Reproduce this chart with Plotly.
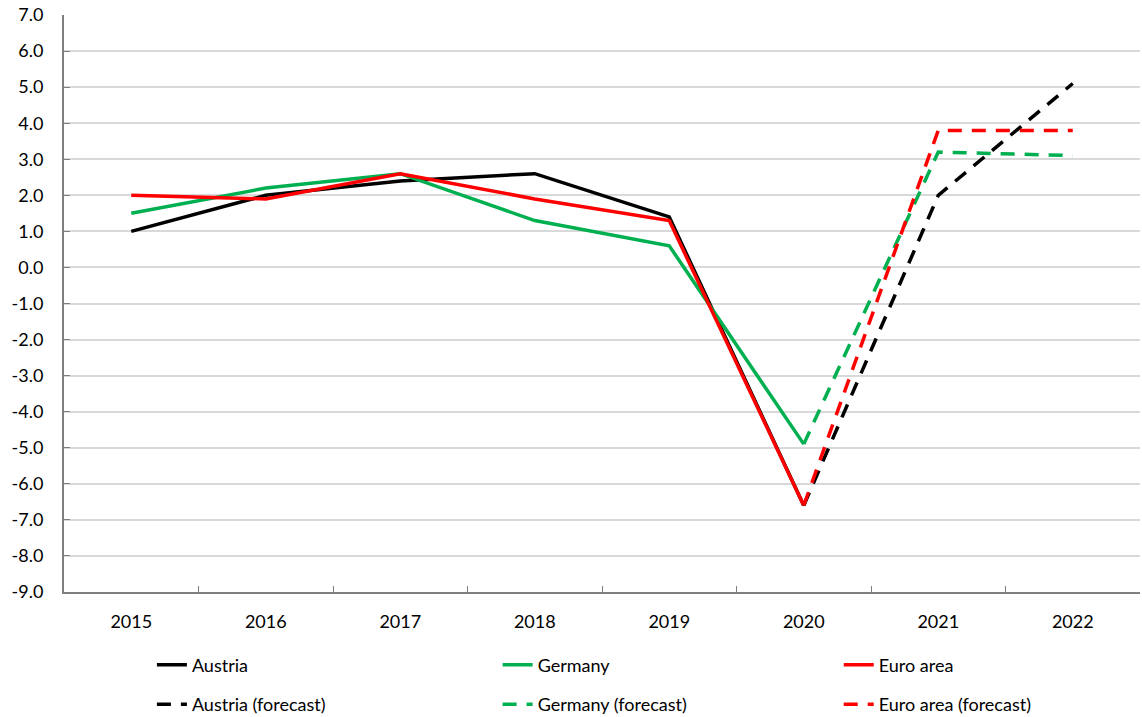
import plotly.graph_objects as go

years = ["2015", "2016", "2017", "2018", "2019", "2020", "2021", "2022"]

# Outturn (2015-2020)
austria = [1.0, 2.0, 2.4, 2.6, 1.4, -6.6, None, None]
germany = [1.5, 2.2, 2.6, 1.3, 0.6, -4.9, None, None]
euro_area = [2.0, 1.9, 2.6, 1.9, 1.3, -6.6, None, None]

# Forecast (from 2020 onwards)
austria_fc = [None, None, None, None, None, -6.6, 2.0, 5.1]
germany_fc = [None, None, None, None, None, -4.9, 3.2, 3.1]
euro_area_fc = [None, None, None, None, None, -6.6, 3.8, 3.8]

y_ticks = [v for v in range(-9, 8)]

BLACK = "#000000"
GREEN = "#00b050"
RED = "#ff0000"
DASH = "14px,10px"
LW = 3.5

fig = go.Figure()

series = [
    ("Austria", austria, BLACK, "solid", "legend"),
    ("Germany", germany, GREEN, "solid", "legend2"),
    ("Euro area", euro_area, RED, "solid", "legend3"),
    ("Austria (forecast)", austria_fc, BLACK, DASH, "legend"),
    ("Germany (forecast)", germany_fc, GREEN, DASH, "legend2"),
    ("Euro area (forecast)", euro_area_fc, RED, DASH, "legend3"),
]
for name, vals, color, dash, leg in series:
    fig.add_trace(go.Scatter(
        x=years, y=vals, name=name, mode="lines",
        line=dict(color=color, width=LW, dash=dash),
        connectgaps=False, legend=leg, legendgroup=name,
    ))

font = dict(family="Lato, Open Sans, sans-serif", size=18, color="#000000")
legend_common = dict(
    orientation="v", yanchor="top", y=-0.0946, xanchor="left",
    font=font, bgcolor="rgba(0,0,0,0)", tracegroupgap=13,
    itemwidth=30, traceorder="grouped",
)

fig.update_layout(
    width=1142, height=717,
    margin=dict(l=64, r=2, t=15, b=125, autoexpand=False),
    paper_bgcolor="white", plot_bgcolor="white",
    font=font,
    showlegend=True,
    legend=dict(**legend_common, x=0.0817),
    legend2=dict(**legend_common, x=0.403),
    legend3=dict(**legend_common, x=0.720),
    xaxis=dict(
        type="category", categoryorder="array", categoryarray=years,
        range=[-0.5, len(years) - 0.5],
        showgrid=False, showline=True, linecolor="#7f7f7f", linewidth=2,
        ticks="inside", tickson="boundaries", ticklen=6, tickcolor="#7f7f7f",
        tickwidth=1, ticklabelstandoff=12, zeroline=False,
    ),
    yaxis=dict(
        range=[-9, 7], tickvals=y_ticks, ticktext=[f"{v:.1f}" for v in y_ticks],
        showgrid=True, gridcolor="#d9d9d9", gridwidth=1.5,
        showline=True, linecolor="#7f7f7f", linewidth=2,
        ticks="inside", ticklen=6, tickcolor="#7f7f7f",
        ticklabelstandoff=15, zeroline=False,
    ),
)

fig.write_html("out.html")
